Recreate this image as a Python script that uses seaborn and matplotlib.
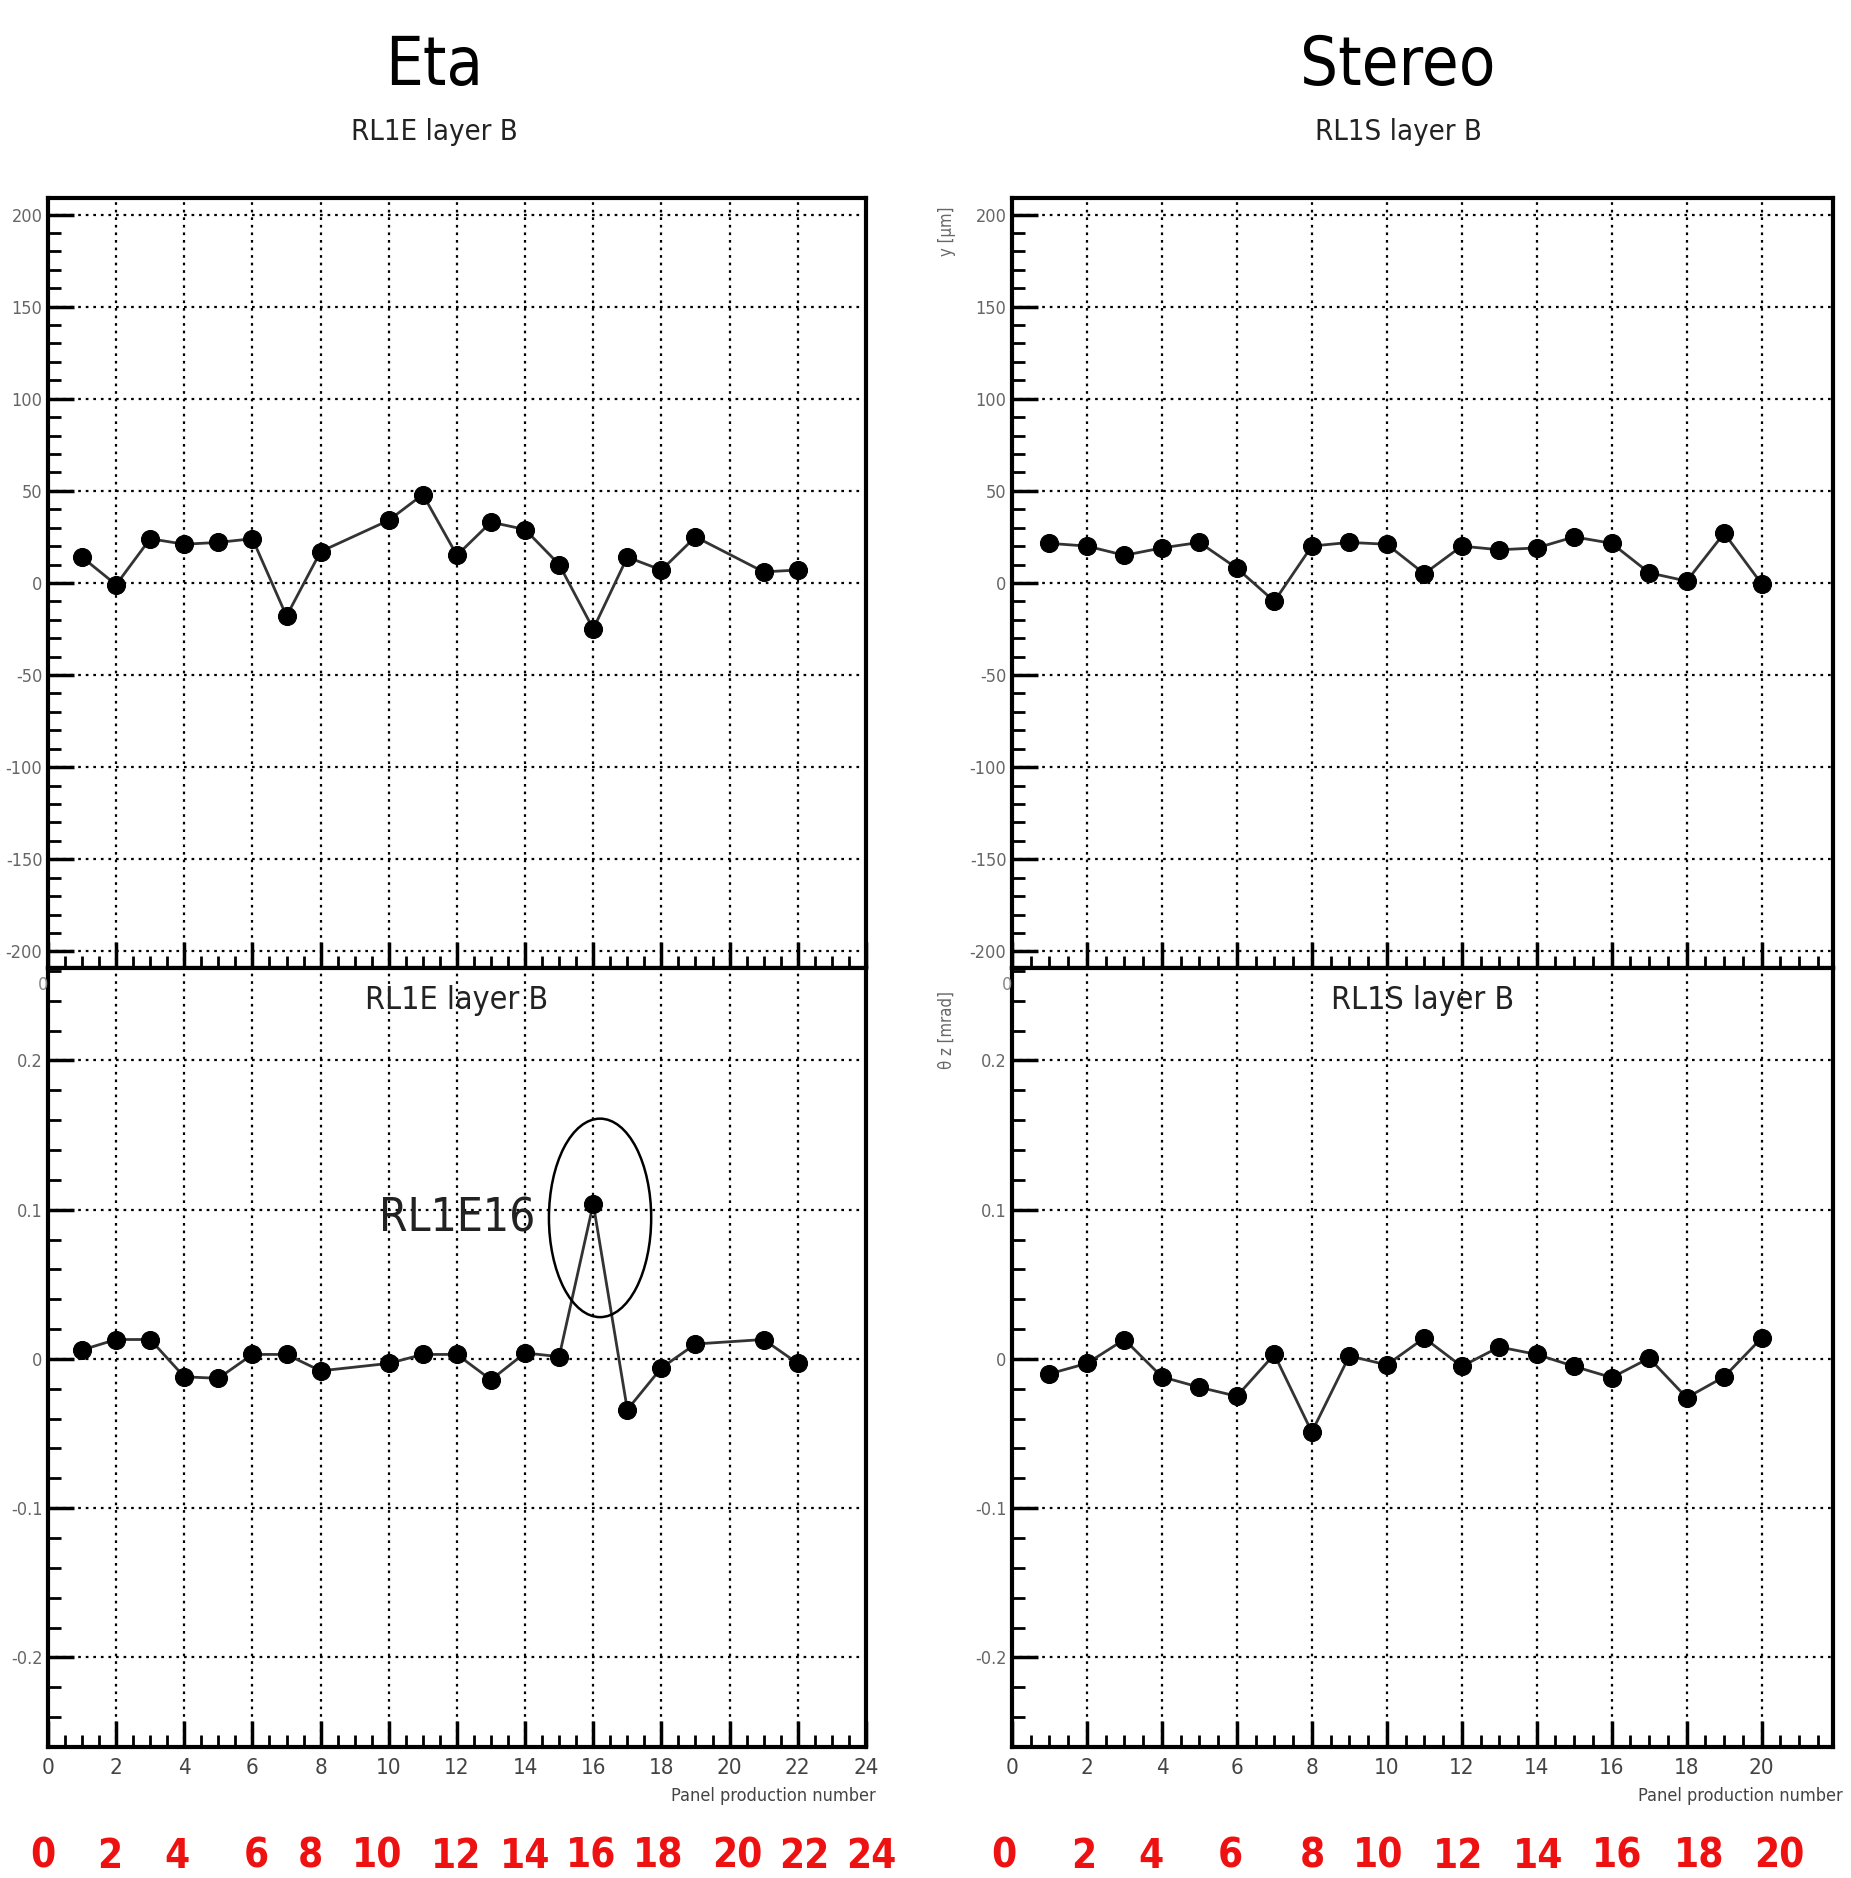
import numpy as np
import pandas as pd
import matplotlib
import matplotlib.pyplot as plt
import seaborn as sns
from matplotlib.patches import Ellipse
from matplotlib.ticker import MultipleLocator, FuncFormatter

# --- données ---
eta_panel = [1, 2, 3, 4, 5, 6, 7, 8, 10, 11, 12, 13, 14, 15, 16, 17, 18, 19, 21, 22]
eta_y = [14, -1, 24, 21, 22, 24, -18, 17, 34, 48, 15, 33, 29, 10, -25, 14, 7, 25, 6, 7]
eta_z = [0.006, 0.013, 0.013, -0.012, -0.013, 0.003, 0.003, -0.008, -0.003, 0.003,
         0.003, -0.014, 0.004, 0.0015, 0.104, -0.034, -0.006, 0.010, 0.013, -0.003]

stereo_panel = list(range(1, 21))
stereo_y = [21.5, 20, 15, 19, 22, 8, -10, 20, 22, 21, 5, 20, 18, 19, 25, 21.5, 5.5, 1, 27, -0.5]
stereo_z = [-0.010, -0.003, 0.013, -0.012, -0.019, -0.025, 0.003, -0.049, 0.002, -0.004,
            0.014, -0.005, 0.008, 0.003, -0.005, -0.0125, 0.0005, -0.026, -0.012, 0.014]

red_left = ['0', '2', '4', '6', '8', '10', '12', '14', '16', '18', '20', '22', '24']
red_left_px = [43, 110, 177, 256, 310, 377, 456, 525, 591, 658, 737, 804, 871]
red_right = ['0', '2', '4', '6', '8', '10', '12', '14', '16', '18', '20']
red_right_px = [1004, 1084, 1151, 1230, 1312, 1378, 1458, 1538, 1617, 1699, 1779]

sns.set_theme(style='white')
plt.rcParams['font.family'] = ['DejaVu Sans Condensed', 'DejaVu Sans']
plt.rcParams['font.stretch'] = 'condensed'
plt.rcParams['axes.unicode_minus'] = False

W, H = 1851, 1878
fig = plt.figure(figsize=(W / 100, H / 100), dpi=100)

ax_tl = fig.add_axes([0.0259, 0.4846, 0.4419, 0.41])
ax_bl = fig.add_axes([0.0259, 0.0698, 0.4419, 0.4148], sharex=ax_tl)
ax_tr = fig.add_axes([0.5467, 0.4846, 0.4435, 0.41])
ax_br = fig.add_axes([0.5467, 0.0698, 0.4435, 0.4148], sharex=ax_tr)

df_eta = pd.DataFrame({'panel': eta_panel, 'y': eta_y, 'z': eta_z})
df_st = pd.DataFrame({'panel': stereo_panel, 'y': stereo_y, 'z': stereo_z})

style = dict(marker='o', color='#333333', markerfacecolor='black', markeredgecolor='black',
             markersize=13, linewidth=2, errorbar=None, zorder=5)
sns.lineplot(data=df_eta, x='panel', y='y', ax=ax_tl, **style)
sns.lineplot(data=df_eta, x='panel', y='z', ax=ax_bl, **style)
sns.lineplot(data=df_st, x='panel', y='y', ax=ax_tr, **style)
sns.lineplot(data=df_st, x='panel', y='z', ax=ax_br, **style)

fmt = FuncFormatter(lambda v, p: '%g' % round(v, 3))
for ax, top in [(ax_tl, True), (ax_tr, True), (ax_bl, False), (ax_br, False)]:
    if top:
        ax.set_ylim(-209, 209)
        ax.yaxis.set_major_locator(MultipleLocator(50))
        ax.yaxis.set_minor_locator(MultipleLocator(10))
    else:
        ax.set_ylim(-0.26, 0.262)
        ax.yaxis.set_major_locator(MultipleLocator(0.1))
        ax.yaxis.set_minor_locator(MultipleLocator(0.02))
    ax.yaxis.set_major_formatter(fmt)
    ax.xaxis.set_major_locator(MultipleLocator(2))
    ax.xaxis.set_minor_locator(MultipleLocator(0.5))
    ax.grid(True, which='major', color='black', linestyle=(0, (1.2, 2.2)), linewidth=1.6)
    ax.tick_params(which='major', direction='in', length=19, width=2.5, color='black',
                   labelsize=13, labelcolor='#666666', left=True, bottom=True, pad=4)
    ax.tick_params(which='minor', direction='in', length=9, width=2, color='black',
                   left=True, bottom=True)
    for s in ax.spines.values():
        s.set_visible(True)
        s.set_color('black')
        s.set_linewidth(3)
    ax.set_ylabel('')
    ax.set_xlabel('')
    if top:
        ax.tick_params(axis='x', labelbottom=False)

ax_tl.set_xlim(0, 24)
ax_tr.set_xlim(0, 21.9)
for ax in (ax_bl, ax_br):
    ax.tick_params(axis='x', labelsize=16, labelcolor='#444444', pad=8)
    ax.set_xlabel('Panel production number', loc='right', fontsize=13, color='#444444')
    ax.xaxis.set_label_coords(1.012, -0.052)

# titres
for xc, big, small in [(434, 'Eta', 'RL1E layer B'), (1398, 'Stereo', 'RL1S layer B')]:
    fig.text(xc / W, 1 - 66 / H, big, ha='center', va='center', fontsize=48, color='black')
    fig.text(xc / W, 1 - 132 / H, small, ha='center', va='center', fontsize=21, color='#222222')
ax_bl.text(0.5, 0.958, 'RL1E layer B', transform=ax_bl.transAxes, ha='center', va='center',
           fontsize=23, color='#222222')
ax_br.text(0.5, 0.958, 'RL1S layer B', transform=ax_br.transAxes, ha='center', va='center',
           fontsize=23, color='#222222')

# étiquettes d'axe du panneau stéréo
fig.text(947 / W, 1 - 231 / H, 'y [μm]', rotation=90, ha='center', va='center', fontsize=12, color='#666666')
fig.text(947 / W, 1 - 1030 / H, 'θ z [mrad]', rotation=90, ha='center', va='center', fontsize=12, color='#666666')

# restes d'étiquettes coupées en haut des panneaux du bas
fig.text(48 / W, 1 - 985 / H, '0', ha='right', va='center', fontsize=13, color='#888888')
fig.text(1012 / W, 1 - 985 / H, '0', ha='right', va='center', fontsize=13, color='#888888')

# annotation RL1E16
ax_bl.text(12.0, 0.094, 'RL1E16', ha='center', va='center', fontsize=33, color='#222222')
ax_bl.add_patch(Ellipse((16.2, 0.0945), 3.0, 0.133, fill=False, edgecolor='black', linewidth=1.8, zorder=6))

# numéros rouges ajoutés en bas
for lab, px in zip(red_left, red_left_px):
    fig.text(px / W, 1 - 1857 / H, lab, ha='center', va='center', fontsize=29,
             fontweight='bold', color='#ee1111')
for lab, px in zip(red_right, red_right_px):
    fig.text(px / W, 1 - 1857 / H, lab, ha='center', va='center', fontsize=29,
             fontweight='bold', color='#ee1111')

plt.savefig('out.png', dpi=100)
plt.close()
